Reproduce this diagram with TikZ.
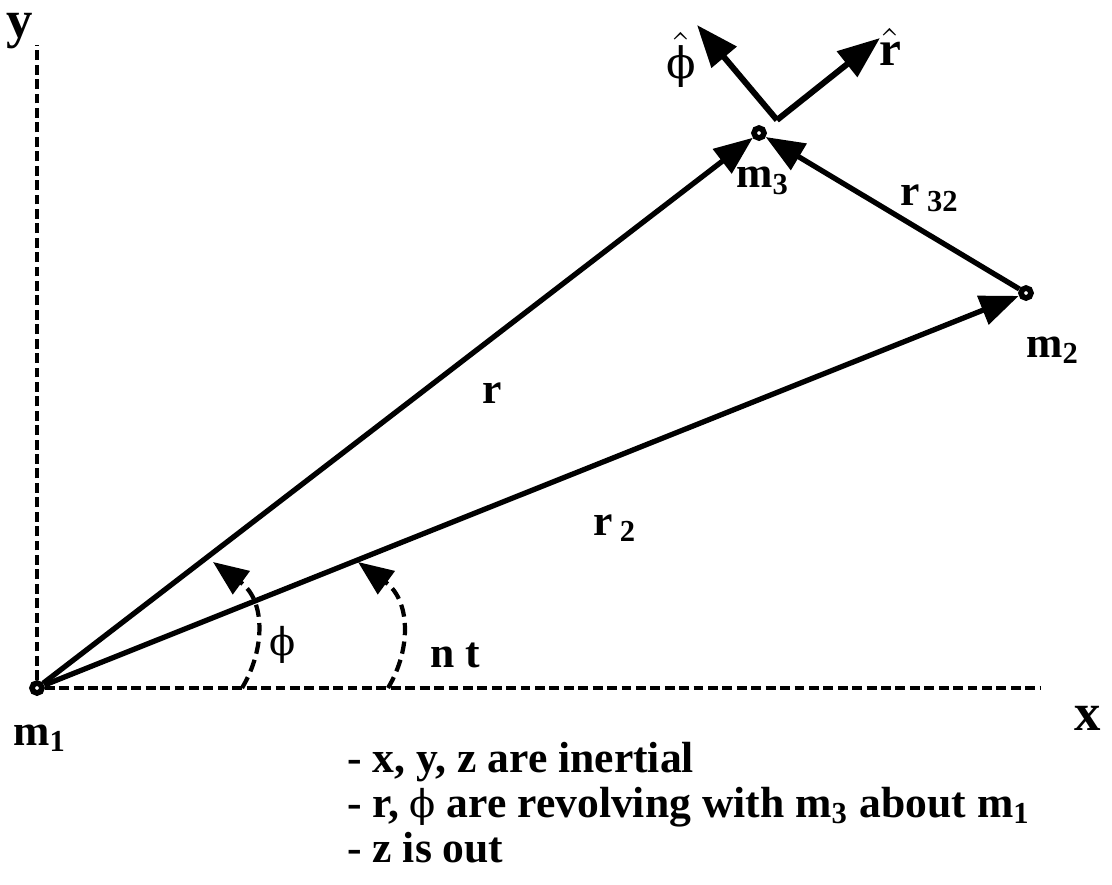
\documentclass[tikz,border=0pt]{standalone}
\usepackage{bm}
\usepackage{fontspec}
\setmainfont{Liberation Serif}
\newfontfamily\phifont[Scale=0.88]{DejaVu Serif}
\newcommand\phisym{{\phifont\mdseries ϕ}}
\usetikzlibrary{arrows.meta}

\begin{document}
\begin{tikzpicture}[x=0.01cm,y=-0.01cm,every node/.style={font=\bfseries\fontsize{12.4}{14}\selectfont,inner sep=1pt},
  mass/.style={circle,draw,line width=1.6pt,minimum size=0.1cm,inner sep=0pt},
  vec/.style={line width=1.5pt,-{Triangle[length=11pt,width=8.5pt]}},
  unit/.style={line width=1.7pt,-{Triangle[length=12pt,width=9pt]}},
  axis/.style={line width=0.9pt,dash pattern=on 2.8pt off 1.3pt},
  sweep/.style={line width=1.2pt,dash pattern=on 3.5pt off 1.8pt,-{Triangle[length=10pt,width=8pt]}}]
\useasboundingbox (0,0) rectangle (1112,884);
% masses
\node[mass] (m1) at (37,688) {};
\node[mass] (m2) at (1026,293) {};
\node[mass] (m3) at (759,133) {};
\node (lm1) at (40,738) {m\textsubscript{1}};
\node (lm2) at (1053,350) {m\textsubscript{2}};
\node (lm3) at (763,181) {m\textsubscript{3}};
% axes
\coordinate (ytop) at (37,45);
\coordinate (xend) at (1040,688);
\draw[axis] (m1) -- (ytop);
\draw[axis] (m1) -- (xend);
\node[font=\bfseries\fontsize{15}{17}\selectfont,anchor=base] (ly) at (20,37) {y};
\node[font=\bfseries\fontsize{15}{17}\selectfont,anchor=base] (lx) at (1088,730) {x};
% position vectors
\draw[vec] (m1) -- (m3);
\draw[vec] (m1) -- (m2);
\draw[vec] (m2) -- (m3);
\node (lr) at (492,393) {r};
\node (lr2) at (615,528) {r\,\textsubscript{2}};
\node (lr32) at (930,198) {r\,\textsubscript{32}};
% unit vectors at m3
\coordinate (base) at (777,120);
\coordinate (phitip) at (697,25);
\coordinate (rtip) at (880,38);
\draw[unit] (base) -- (phitip);
\draw[unit] (base) -- (rtip);
\node[font=\bfseries\fontsize{14}{16}\selectfont] (lphihat) at (681,60) {$\bm{\hat{\mbox{\phisym}}}$};
\node[font=\bfseries\fontsize{14}{16}\selectfont] (lrhat) at (890,47) {$\bm{\hat{\mbox{r}}}$};
% angles
\coordinate (phi0) at (242,688);
\coordinate (phi1) at (213,562);
\draw[sweep] (phi0) .. controls (266,648) and (265,600) .. (phi1);
\node (lphi) at (283,645) {\phisym};
\coordinate (nt0) at (388,688);
\coordinate (nt1) at (358,562);
\draw[sweep] (nt0) .. controls (412,648) and (410,600) .. (nt1);
\node (lnt) at (455,655) {n t};
% notes
\node[anchor=base west] (note1) at (343,772) {- x, y, z are inertial};
\node[anchor=base west] (note2) at (343,817) {- r, \phisym\ are revolving with m\textsubscript{3} about m\textsubscript{1}};
\node[anchor=base west] (note3) at (343,862) {- z is out};
\end{tikzpicture}
\end{document}
